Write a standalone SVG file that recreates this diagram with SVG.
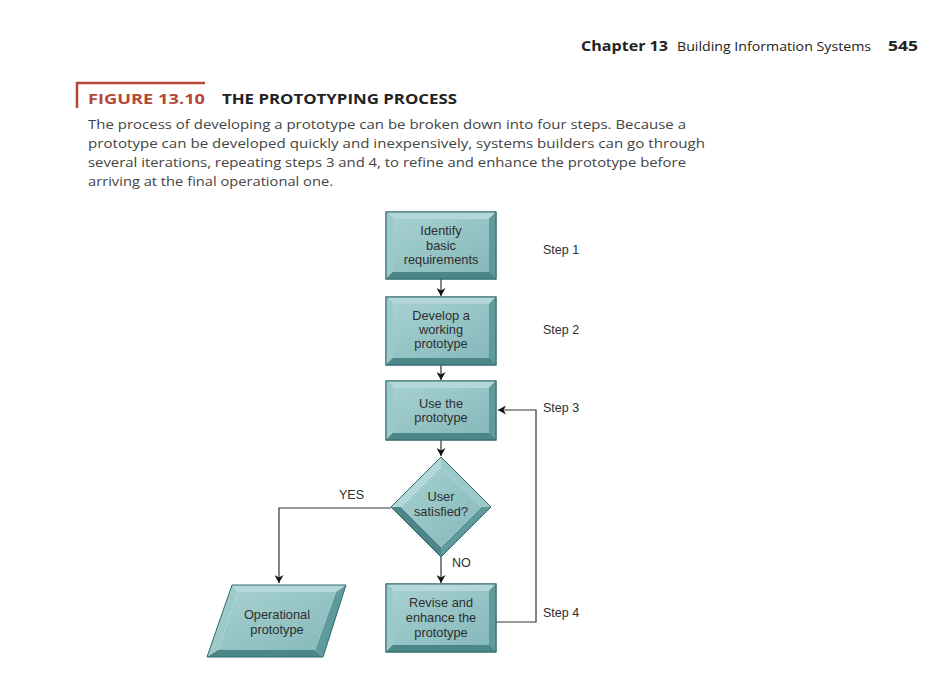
<svg xmlns="http://www.w3.org/2000/svg" width="942" height="690" viewBox="0 0 942 690">
<style>
.hdr{font-family:"Open Sans","Liberation Sans",sans-serif;fill:#222}
.body{font-family:"Open Sans","Liberation Sans",sans-serif;font-size:13.5px;fill:#444}
.lbl{font-family:"Liberation Sans",Arial,sans-serif;font-size:12.8px;fill:#2e2e2e;text-anchor:middle}
.step{font-family:"Liberation Sans",Arial,sans-serif;font-size:12.5px;fill:#2e2e2e}
.edge{fill:#4e8d8f;stroke:#2f6a6c;stroke-width:1}
.bt{fill:#b4d8d9}
.bl{fill:#9ccacb}
.br{fill:#5f9a9c}
.bb{fill:#4c8688}
.face{fill:url(#g)}
.conn{fill:none;stroke:#333;stroke-width:1.2}
</style>
<defs>
<linearGradient id="g" x1="0" y1="0" x2="1" y2="1">
<stop offset="0" stop-color="#a6d0d1"/>
<stop offset="1" stop-color="#86b9ba"/>
</linearGradient>
<marker id="ah" markerWidth="8" markerHeight="9" refX="8" refY="4.5" orient="auto" markerUnits="userSpaceOnUse">
<path d="M0,0 L8,4.5 L0,9 L2.5,4.5 Z" fill="#111"/>
</marker>
</defs>
<rect width="942" height="690" fill="#fff"/>

<g id="header">
<text class="hdr" x="581" y="51" font-size="15" font-weight="bold" textLength="87" lengthAdjust="spacingAndGlyphs">Chapter 13</text>
<text class="hdr" x="677" y="51" font-size="12.5" textLength="194" lengthAdjust="spacingAndGlyphs">Building Information Systems</text>
<text class="hdr" x="888" y="51" font-size="15" font-weight="bold" textLength="30" lengthAdjust="spacingAndGlyphs">545</text>
</g>

<g id="caption">
<path d="M77,108 V83 H205" fill="none" stroke="#b5473a" stroke-width="2.5"/>
<text x="88" y="104" font-family="Open Sans,Liberation Sans,sans-serif" font-size="15" font-weight="bold" fill="#b5473a" textLength="117" lengthAdjust="spacingAndGlyphs">FIGURE 13.10</text>
<text x="222" y="104" font-family="Open Sans,Liberation Sans,sans-serif" font-size="15" font-weight="bold" fill="#222" textLength="235" lengthAdjust="spacingAndGlyphs">THE PROTOTYPING PROCESS</text>
<text class="body" x="88" y="129" textLength="598" lengthAdjust="spacingAndGlyphs">The process of developing a prototype can be broken down into four steps. Because a</text>
<text class="body" x="88" y="148" textLength="617" lengthAdjust="spacingAndGlyphs">prototype can be developed quickly and inexpensively, systems builders can go through</text>
<text class="body" x="88" y="167" textLength="598" lengthAdjust="spacingAndGlyphs">several iterations, repeating steps 3 and 4, to refine and enhance the prototype before</text>
<text class="body" x="88" y="186" textLength="245" lengthAdjust="spacingAndGlyphs">arriving at the final operational one.</text>
</g>

<g id="connectors">
<path class="conn" d="M441,279 V296" marker-end="url(#ah)"/>
<path class="conn" d="M441,365 V380" marker-end="url(#ah)"/>
<path class="conn" d="M441,440 V456" marker-end="url(#ah)"/>
<path class="conn" d="M391,508 H279 V583" marker-end="url(#ah)"/>
<path class="conn" d="M441,557 V583" marker-end="url(#ah)"/>
<path class="conn" d="M496,622 H536 V410 H498" marker-end="url(#ah)"/>
<text class="step" x="339" y="499">YES</text>
<text class="step" x="452" y="567">NO</text>
</g>

<g id="n1">
<rect class="edge" x="386" y="212" width="110" height="67"/>
<polygon class="bt" points="386,212 496,212 489,219 393,219"/>
<polygon class="bl" points="386,212 393,219 393,272 386,279"/>
<polygon class="br" points="496,212 496,279 489,272 489,219"/>
<polygon class="bb" points="386,279 393,272 489,272 496,279"/>
<rect class="face" x="393" y="219" width="96" height="53"/>
<rect x="386" y="212" width="110" height="67" fill="none" stroke="#2f6a6c"/>
<text class="lbl" x="441" y="235">Identify</text>
<text class="lbl" x="441" y="250">basic</text>
<text class="lbl" x="441" y="264">requirements</text>
</g>
<text class="step" x="543" y="254">Step 1</text>

<g id="n2">
<rect class="edge" x="386" y="297" width="110" height="68"/>
<polygon class="bt" points="386,297 496,297 489,304 393,304"/>
<polygon class="bl" points="386,297 393,304 393,358 386,365"/>
<polygon class="br" points="496,297 496,365 489,358 489,304"/>
<polygon class="bb" points="386,365 393,358 489,358 496,365"/>
<rect class="face" x="393" y="304" width="96" height="54"/>
<rect x="386" y="297" width="110" height="68" fill="none" stroke="#2f6a6c"/>
<text class="lbl" x="441" y="320">Develop a</text>
<text class="lbl" x="441" y="334">working</text>
<text class="lbl" x="441" y="348">prototype</text>
</g>
<text class="step" x="543" y="334">Step 2</text>

<g id="n3">
<rect class="edge" x="386" y="381" width="110" height="59"/>
<polygon class="bt" points="386,381 496,381 489,388 393,388"/>
<polygon class="bl" points="386,381 393,388 393,433 386,440"/>
<polygon class="br" points="496,381 496,440 489,433 489,388"/>
<polygon class="bb" points="386,440 393,433 489,433 496,440"/>
<rect class="face" x="393" y="388" width="96" height="45"/>
<rect x="386" y="381" width="110" height="59" fill="none" stroke="#2f6a6c"/>
<text class="lbl" x="441" y="408">Use the</text>
<text class="lbl" x="441" y="422">prototype</text>
</g>
<text class="step" x="543" y="412">Step 3</text>

<g id="n4">
<polygon class="bt" points="441,457 391,507 401,507 441,467"/>
<polygon class="bl" points="441,457 491,507 481,507 441,467"/>
<polygon class="br" points="491,507 441,557 441,547 481,507"/>
<polygon class="bb" points="391,507 441,557 441,547 401,507"/>
<polygon class="face" points="441,467 481,507 441,547 401,507"/>
<polygon points="441,457 491,507 441,557 391,507" fill="none" stroke="#2f6a6c"/>
<text class="lbl" x="441" y="501">User</text>
<text class="lbl" x="441" y="516">satisfied?</text>
</g>

<g id="n5">
<rect class="edge" x="386" y="584" width="110" height="68"/>
<polygon class="bt" points="386,584 496,584 489,591 393,591"/>
<polygon class="bl" points="386,584 393,591 393,645 386,652"/>
<polygon class="br" points="496,584 496,652 489,645 489,591"/>
<polygon class="bb" points="386,652 393,645 489,645 496,652"/>
<rect class="face" x="393" y="591" width="96" height="54"/>
<rect x="386" y="584" width="110" height="68" fill="none" stroke="#2f6a6c"/>
<text class="lbl" x="441" y="607">Revise and</text>
<text class="lbl" x="441" y="622">enhance the</text>
<text class="lbl" x="441" y="637">prototype</text>
</g>
<text class="step" x="543" y="617">Step 4</text>

<g id="n6">
<polygon class="bt" points="232,585 346,585 336,592 238,592"/>
<polygon class="bl" points="232,585 238,592 218,650 207,657"/>
<polygon class="br" points="346,585 323,657 315,650 336,592"/>
<polygon class="bb" points="207,657 218,650 315,650 323,657"/>
<polygon class="face" points="238,592 336,592 315,650 218,650"/>
<polygon points="232,585 346,585 323,657 207,657" fill="none" stroke="#2f6a6c"/>
<text class="lbl" x="277" y="619">Operational</text>
<text class="lbl" x="277" y="634">prototype</text>
</g>
</svg>
